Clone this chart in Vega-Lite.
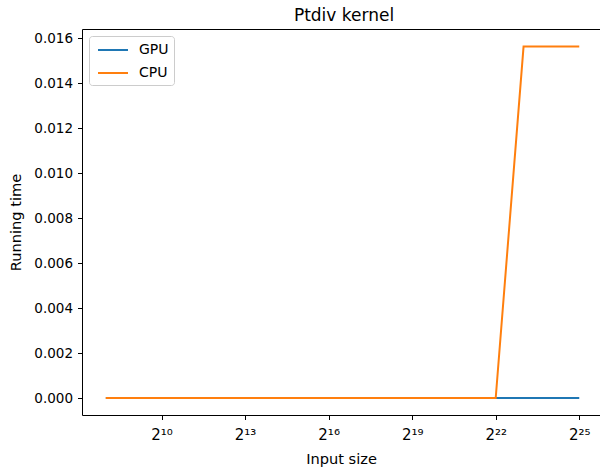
{
  "$schema": "https://vega.github.io/schema/vega-lite/v6.json",
  "autosize": "none",
  "padding": {"left": 82, "top": 29, "right": 0, "bottom": 56},
  "width": 518,
  "height": 386,
  "title": {"text": "Ptdiv kernel", "font": "DejaVu Sans", "fontSize": 17, "fontWeight": "normal", "color": "#000", "anchor": "middle", "offset": 8, "baseline": "alphabetic", "dx": 3, "dy": 17},
  "data": {"values": [
    {"n": 256, "series": "GPU", "t": 0},
    {"n": 512, "series": "GPU", "t": 0},
    {"n": 1024, "series": "GPU", "t": 0},
    {"n": 2048, "series": "GPU", "t": 0},
    {"n": 4096, "series": "GPU", "t": 0},
    {"n": 8192, "series": "GPU", "t": 0},
    {"n": 16384, "series": "GPU", "t": 0},
    {"n": 32768, "series": "GPU", "t": 0},
    {"n": 65536, "series": "GPU", "t": 0},
    {"n": 131072, "series": "GPU", "t": 0},
    {"n": 262144, "series": "GPU", "t": 0},
    {"n": 524288, "series": "GPU", "t": 0},
    {"n": 1048576, "series": "GPU", "t": 0},
    {"n": 2097152, "series": "GPU", "t": 0},
    {"n": 4194304, "series": "GPU", "t": 0},
    {"n": 8388608, "series": "GPU", "t": 0},
    {"n": 16777216, "series": "GPU", "t": 0},
    {"n": 33554432, "series": "GPU", "t": 0},
    {"n": 256, "series": "CPU", "t": 0},
    {"n": 512, "series": "CPU", "t": 0},
    {"n": 1024, "series": "CPU", "t": 0},
    {"n": 2048, "series": "CPU", "t": 0},
    {"n": 4096, "series": "CPU", "t": 0},
    {"n": 8192, "series": "CPU", "t": 0},
    {"n": 16384, "series": "CPU", "t": 0},
    {"n": 32768, "series": "CPU", "t": 0},
    {"n": 65536, "series": "CPU", "t": 0},
    {"n": 131072, "series": "CPU", "t": 0},
    {"n": 262144, "series": "CPU", "t": 0},
    {"n": 524288, "series": "CPU", "t": 0},
    {"n": 1048576, "series": "CPU", "t": 0},
    {"n": 2097152, "series": "CPU", "t": 0},
    {"n": 4194304, "series": "CPU", "t": 0},
    {"n": 8388608, "series": "CPU", "t": 0.015625},
    {"n": 16777216, "series": "CPU", "t": 0.015625},
    {"n": 33554432, "series": "CPU", "t": 0.015625}
  ]},
  "layer": [
    {
      "transform": [{"filter": "datum.series == 'GPU'"}],
      "mark": {"type": "line", "strokeWidth": 2, "opacity": 1, "clip": true},
      "encoding": {
        "x": {"field": "n", "type": "quantitative",
          "scale": {"type": "log", "base": 2, "domain": [141.5, 56237000], "nice": false, "zero": false},
          "axis": {"title": "Input size", "orient": "bottom", "values": [1024, 8192, 65536, 524288, 4194304, 33554432],
            "labelExpr": "datum.value==1024?'2¹⁰':datum.value==8192?'2¹³':datum.value==65536?'2¹⁶':datum.value==524288?'2¹⁹':datum.value==4194304?'2²²':'2²⁵'",
            "grid": false, "domainColor": "#000", "tickColor": "#000", "tickSize": 4.5, "labelPadding": 8, "labelFontSize": 15, "titleFontSize": 14.6, "titlePadding": 9}},
        "y": {"field": "t", "type": "quantitative",
          "scale": {"domain": [-0.000755, 0.01640625], "nice": false, "zero": false},
          "axis": {"title": "Running time", "values": [0, 0.002, 0.004, 0.006, 0.008, 0.01, 0.012, 0.014, 0.016], "format": ".3f",
            "grid": false, "domainColor": "#000", "tickColor": "#000", "tickSize": 4.5, "labelPadding": 5, "labelFontSize": 13.5, "titleFontSize": 14.6, "titlePadding": 10}},
        "color": {"field": "series", "type": "nominal",
          "scale": {"domain": ["GPU", "CPU"], "range": ["#1f77b4", "#ff7f0e"]},
          "legend": {"title": null, "orient": "top-left", "offset": 7, "padding": 5, "strokeColor": "#cccccc", "fillColor": "#ffffff", "cornerRadius": 3,
            "symbolType": "M-0.625,0L3.125,0", "symbolSize": 256, "symbolStrokeWidth": 2, "labelFontSize": 14, "labelOffset": 27, "rowPadding": 7, "labelColor": "#000"}}
      }
    },
    {
      "transform": [{"filter": "datum.series == 'CPU'"}],
      "mark": {"type": "line", "strokeWidth": 2, "opacity": 1, "clip": true},
      "encoding": {
        "x": {"field": "n", "type": "quantitative",
          "axis": {"orient": "top", "title": null, "labels": false, "ticks": false, "grid": false, "domainColor": "#000"}},
        "y": {"field": "t", "type": "quantitative"},
        "color": {"field": "series", "type": "nominal"}
      }
    }
  ],
  "resolve": {"axis": {"x": "independent"}},
  "config": {
    "view": {"stroke": null},
    "font": "DejaVu Sans",
    "axis": {"labelFont": "DejaVu Sans", "titleFont": "DejaVu Sans", "labelColor": "#000", "titleColor": "#000", "titleFontWeight": "normal", "domainWidth": 1},
    "legend": {"labelFont": "DejaVu Sans"}
  }
}
